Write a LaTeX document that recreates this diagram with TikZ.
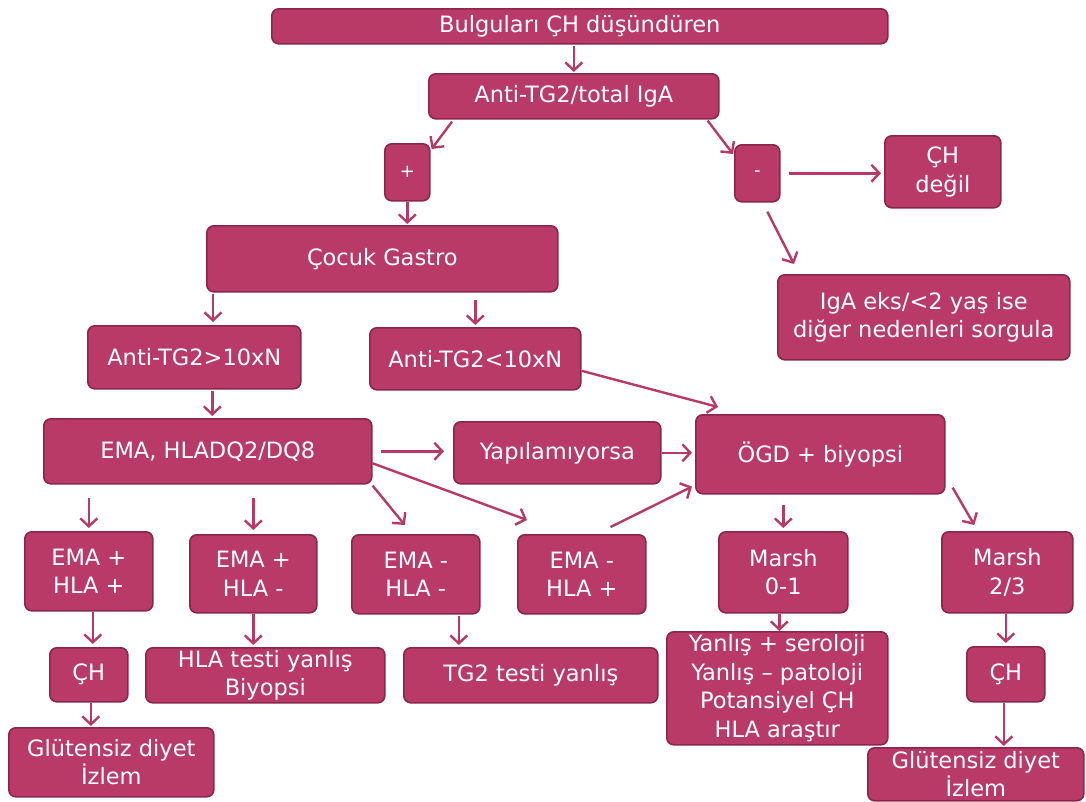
\documentclass[tikz,border=0pt]{standalone}
\usepackage{fontspec}
\setmainfont{DejaVu Sans}
\usetikzlibrary{arrows.meta,calc}
\definecolor{boxfill}{RGB}{185,58,103}
\definecolor{boxline}{RGB}{138,38,74}
\definecolor{arrcol}{RGB}{184,58,100}
\tikzset{
  bx/.style={draw=boxline, line width=1.6pt, fill=boxfill, rounded corners=7pt,
    text=white, align=center, inner sep=0pt, anchor=north west,
    font=\fontsize{22.5}{28.5}\selectfont},
  arr/.style={draw=arrcol, line width=2.4pt,
    -{Straight Barb[length=8pt,width=17pt,line width=2.4pt]}}
}
\newcommand{\bxn}[6]{% name, x1, y1, x2, y2, text
  \pgfmathsetmacro{\ww}{#4-#2}\pgfmathsetmacro{\hh}{#5-#3}%
  \node[bx, minimum width=\ww pt, minimum height=\hh pt] (#1) at (#2pt,-#3pt) {#6};}
\begin{document}
\begin{tikzpicture}[x=1pt,y=1pt]
\useasboundingbox (0,0) rectangle (1086,-801);
\bxn{top}{271}{8}{887}{43}{Bulguları ÇH düşündüren}
\bxn{antitg}{428}{73}{718}{118}{Anti-TG2/total IgA}
\bxn{plus}{384}{143}{429}{200}{\fontsize{18}{20}\selectfont +}
\bxn{minus}{734}{144}{779}{201}{\fontsize{18}{20}\selectfont -}
\bxn{chdegil}{884}{135}{1000}{207}{ÇH\\değil}
\bxn{iga}{777}{274}{1069}{359}{IgA eks/<2 yaş ise\\diğer nedenleri sorgula}
\bxn{gastro}{206}{225}{557}{291}{Çocuk Gastro}
\bxn{gt}{87}{325}{300}{388}{Anti-TG2>10xN}
\bxn{lt}{369}{327}{580}{389}{Anti-TG2<10xN}
\bxn{ema}{43}{418}{371}{483}{EMA, HLADQ2/DQ8}
\bxn{yap}{453}{421}{660}{483}{Yapılamıyorsa}
\bxn{ogd}{695}{414}{944}{493}{ÖGD + biyopsi}
\bxn{epp}{24}{531}{152}{610}{EMA +\\HLA +}
\bxn{epm}{189}{534}{316}{612}{EMA +\\HLA -}
\bxn{emm}{351}{534}{479}{613}{EMA -\\HLA -}
\bxn{emp}{517}{534}{645}{613}{EMA -\\HLA +}
\bxn{mzero}{718}{531}{847}{612}{Marsh\\0-1}
\bxn{mtwo}{941}{531}{1072}{612}{Marsh\\2/3}
\bxn{chone}{49}{647}{127}{701}{ÇH}
\bxn{hlay}{145}{647}{384}{702}{HLA testi yanlış\\Biyopsi}
\bxn{tgy}{403}{647}{657}{702}{TG2 testi yanlış}
\bxn{yanl}{666}{631}{887}{744}{Yanlış + seroloji\\Yanlış – patoloji\\Potansiyel ÇH\\HLA araştır}
\bxn{chtwo}{966}{646}{1044}{701}{ÇH}
\bxn{gluone}{8}{727}{213}{796}{Glütensiz diyet\\İzlem}
\bxn{glutwo}{867}{747}{1083}{800}{\fontsize{22.5}{24}\selectfont Glütensiz diyet\\İzlem}
% connectors
\draw[arr] ([yshift=-1]top.south -| antitg.north) -- ([yshift=1]antitg.north);
\draw[arr] ($(antitg.south west)+(24,-2)$) -- ($(plus.north east)+(1,-6)$);
\draw[arr] ($(antitg.south east)+(-12,-1)$) -- ($(minus.north west)+(-1,-10)$);
\draw[arr] (plus.south) -- ([yshift=1]plus.south |- gastro.north);
\draw[arr] ([xshift=8]minus.east) -- ([xshift=-3]chdegil.west |- minus.east);
\draw[arr] ($(minus.south)+(10,-9)$) -- ($(iga.north west)+(17,10)$);
\draw[arr] ([xshift=7,yshift=-1]gastro.south west) -- ([xshift=7,yshift=3]gastro.south west |- gt.north);
\draw[arr] ([yshift=-7]gastro.south -| lt.north) -- ([yshift=2]lt.north);
\draw[arr] ([xshift=18,yshift=-1]gt.south) -- ([xshift=18,yshift=2]gt.south |- ema.north);
\draw[arr] ($(lt.east)+(0,-12)$) -- ($(ogd.north west)+(23,7)$);
\draw[arr] ([xshift=8]ema.east) -- ([xshift=-9]yap.west |- ema.east);
\draw[arr] ($(ema.east)+(0,-12)$) -- ($(emp.north west)+(10,14)$);
\draw[arr] ($(ema.south east)+(0,-1)$) -- ($(emm.north)+(-11,9)$);
\draw[arr] ([yshift=-13]ema.south -| epp.north) -- ([yshift=3]epp.north);
\draw[arr] ([yshift=-13]ema.south -| epm.north) -- ([yshift=4]epm.north);
\draw[arr] (yap.east) -- ([xshift=-3]ogd.west |- yap.east);
\draw[arr] ($(emp.north east)+(-36,7)$) -- ($(ogd.south west)+(-3,8)$);
\draw[arr] ([yshift=-10]ogd.south -| mzero.north) -- ([yshift=3]mzero.north);
\draw[arr] ($(ogd.south east)+(7,7)$) -- ($(mtwo.north)+(-33,6)$);
\draw[arr] ([xshift=4]epp.south) -- ([xshift=4,yshift=3]epp.south |- chone.north);
\draw[arr] (epm.south) -- ([yshift=2]epm.south |- hlay.north);
\draw[arr] ([xshift=43,yshift=-1]emm.south) -- ([xshift=43,yshift=2]emm.south |- tgy.north);
\draw[arr] ([xshift=-4]mzero.south) -- ([xshift=-4]mzero.south |- yanl.north);
\draw[arr] (chtwo.north |- mtwo.south) -- ([yshift=3]chtwo.north);
\draw[arr] ([xshift=2]chone.south) -- ([xshift=2,yshift=1]chone.south |- gluone.north);
\draw[arr] ([xshift=-2]chtwo.south) -- ([xshift=-2,yshift=1]chtwo.south |- glutwo.north);
\end{tikzpicture}
\end{document}
